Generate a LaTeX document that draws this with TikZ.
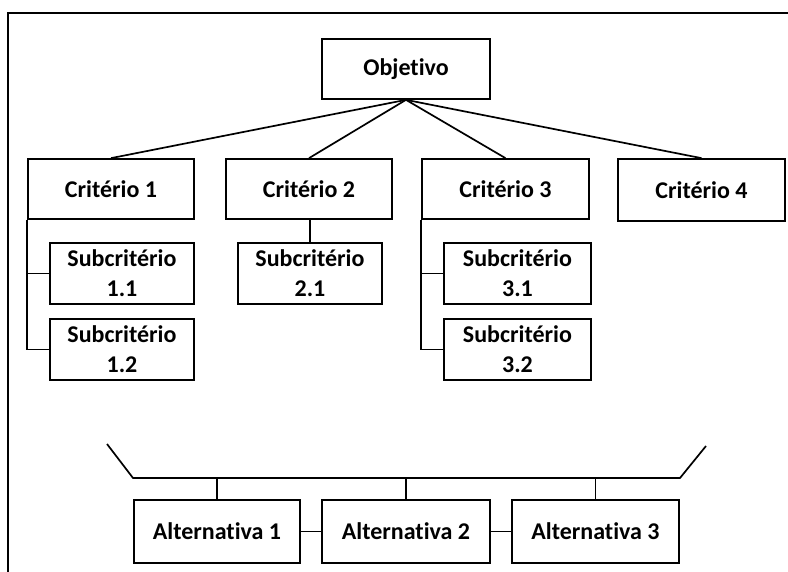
\documentclass[tikz,border=0pt]{standalone}
\usepackage{fontspec}
\setmainfont{Carlito}[RawFeature={-liga}]
\begin{document}
\begin{tikzpicture}[x=1pt,y=-1pt,
  box/.style={draw=black,line width=1.7pt,inner sep=0pt,align=center,
    font=\bfseries\fontsize{24}{30}\selectfont},
  conn/.style={draw=black,line width=1.7pt}]
\useasboundingbox (0,0) rectangle (788,572);
\draw[line width=2pt] (8,572) -- (8,13) -- (788,13);
\node[box,minimum width=168pt,minimum height=60pt] (obj) at (406,69) {Objetivo};
\node[box,minimum width=166pt,minimum height=60pt] (c1) at (111,189) {Critério 1};
\node[box,minimum width=166pt,minimum height=60pt] (c2) at (309,189) {Critério 2};
\node[box,minimum width=167pt,minimum height=60pt] (c3) at (505.5,189) {Critério 3};
\node[box,minimum width=167pt,minimum height=62pt] (c4) at (701.5,190) {Critério 4};
\node[box,minimum width=144pt,minimum height=61pt] (s11) at (122,273.5) {Subcritério\\1.1};
\node[box,minimum width=144pt,minimum height=61pt] (s12) at (122,349.5) {Subcritério\\1.2};
\node[box,minimum width=144pt,minimum height=61pt] (s21) at (310,273.5) {Subcritério\\2.1};
\node[box,minimum width=147pt,minimum height=61pt] (s31) at (517.5,273.5) {Subcritério\\3.1};
\node[box,minimum width=147pt,minimum height=61pt] (s32) at (517.5,349.5) {Subcritério\\3.2};
\node[box,minimum width=166pt,minimum height=63pt] (a1) at (217,531.5) {Alternativa 1};
\node[box,minimum width=168pt,minimum height=63pt] (a2) at (406,531.5) {Alternativa 2};
\node[box,minimum width=167pt,minimum height=63pt] (a3) at (595.5,531.5) {Alternativa 3};
\foreach \c in {c1,c2,c3,c4} \draw[conn] (obj.south) -- (\c.north);
\draw[conn] (c1.south west) -- (c1.south west |- s12.west) -- (s12.west);
\draw[conn] (c1.south west |- s11.west) -- (s11.west);
\draw[conn] (c2.south -| s21.north) -- (s21.north);
\draw[conn] (c3.south west) -- (c3.south west |- s32.west) -- (s32.west);
\draw[conn] (c3.south west |- s31.west) -- (s31.west);
\coordinate (slL) at (107,444);
\coordinate (busL) at (133,478);
\coordinate (busR) at (680,478);
\coordinate (slR) at (706,446);
\draw[conn] (slL) -- (busL) -- (busR) -- (slR);
\foreach \a in {a1,a2,a3} \draw[conn] (\a.north) -- (\a.north |- busL);
\draw[conn] (a1.east) -- (a2.west);
\draw[conn] (a2.east) -- (a3.west);
\end{tikzpicture}
\end{document}
